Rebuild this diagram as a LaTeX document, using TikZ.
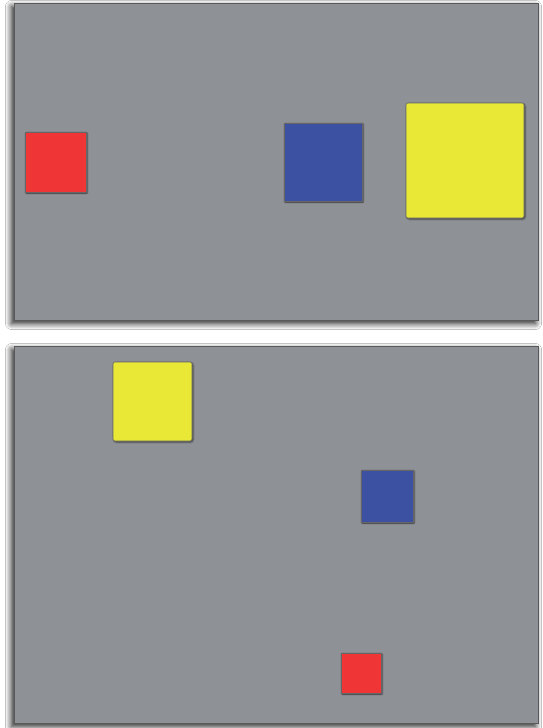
\documentclass[tikz,border=0pt]{standalone}
\usetikzlibrary{shadows.blur}
\definecolor{panelgray}{HTML}{8E9196}
\definecolor{sqred}{HTML}{EF3535}
\definecolor{sqblue}{HTML}{3C51A2}
\definecolor{sqyellow}{HTML}{E9E836}
\tikzset{
  panel/.style={fill=panelgray, draw=black!65, line width=1pt,
    blur shadow={shadow xshift=-2.5pt, shadow yshift=-3.5pt, shadow blur steps=10, shadow blur radius=6pt, shadow opacity=90}},
  sq/.style={draw=black!60, line width=0.6pt,
    blur shadow={shadow xshift=1pt, shadow yshift=-1pt, shadow blur steps=4, shadow blur radius=1.2pt, shadow opacity=60}},
}
\begin{document}
\begin{tikzpicture}[x=1pt,y=-1pt]
\useasboundingbox (0,0) rectangle (542,728);
\fill[white] (0,0) rectangle (542,728);
% top panel
\path[panel] (14,3) rectangle (538,320);
\path[sq, fill=sqred] (25,132) rectangle (86,192);
\path[sq, fill=sqblue] (284,123) rectangle (362,201);
\path[sq, fill=sqyellow, rounded corners=2pt] (406,103) rectangle (524,218);
% bottom panel
\path[panel] (14,346) rectangle (538,723);
\path[sq, fill=sqyellow, rounded corners=2pt] (113,362) rectangle (192,441);
\path[sq, fill=sqblue] (361,470) rectangle (413,522);
\path[sq, fill=sqred] (341,653) rectangle (381,693);
\end{tikzpicture}
\end{document}
